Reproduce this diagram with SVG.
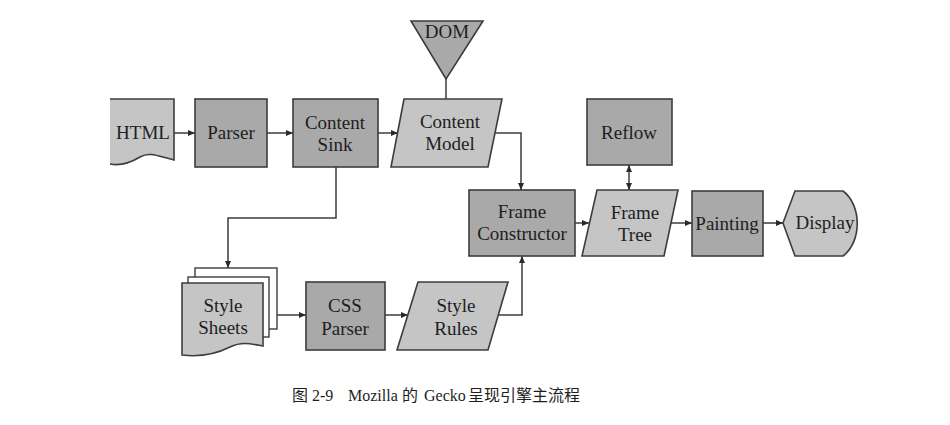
<svg xmlns="http://www.w3.org/2000/svg" width="950" height="425" viewBox="0 0 950 425">
<defs>
<style>
.dk{fill:#a9a9a9;stroke:#3c3c3c;stroke-width:1.6}
.lt{fill:#c5c5c5;stroke:#3c3c3c;stroke-width:1.6}
.pg{fill:#ffffff;stroke:#3c3c3c;stroke-width:1.4}
.nofill{fill:none;stroke:#3c3c3c;stroke-width:1.6}
.c{fill:none;stroke:#3c3c3c;stroke-width:1.5}
.t{font-family:'Liberation Serif','DejaVu Serif',serif;font-size:19px;fill:#1e1e1e;text-anchor:middle}
.cap{font-family:'Liberation Serif','Noto Sans CJK SC',serif;font-size:16px;fill:#1e1e1e}
</style>
<marker id="ah" markerUnits="userSpaceOnUse" markerWidth="8" markerHeight="8" refX="7" refY="3" orient="auto-start-reverse">
<path d="M0,0 L7,3 L0,6 Z" fill="#2a2a2a"/>
</marker>
</defs>
<rect width="950" height="425" fill="#ffffff"/>

<g id="connectors">
<line class="c" x1="174" y1="133" x2="195" y2="133" marker-end="url(#ah)"/>
<line class="c" x1="267" y1="133" x2="293" y2="133" marker-end="url(#ah)"/>
<line class="c" x1="378" y1="133" x2="398" y2="133" marker-end="url(#ah)"/>
<line class="c" x1="446" y1="79" x2="446" y2="99"/>
<path class="c" d="M495,133 H521 V190" marker-end="url(#ah)"/>
<line class="c" x1="575" y1="223" x2="589" y2="223" marker-end="url(#ah)"/>
<line class="c" x1="629" y1="165" x2="629" y2="190" marker-start="url(#ah)" marker-end="url(#ah)"/>
<line class="c" x1="671" y1="223" x2="692" y2="223" marker-end="url(#ah)"/>
<line class="c" x1="763" y1="223" x2="783" y2="223" marker-end="url(#ah)"/>
<path class="c" d="M336,167 V218 H228 V268" marker-end="url(#ah)"/>
<line class="c" x1="277" y1="315" x2="306" y2="315" marker-end="url(#ah)"/>
<line class="c" x1="385" y1="315" x2="408" y2="315" marker-end="url(#ah)"/>
<path class="c" d="M498,315 H522 V256" marker-end="url(#ah)"/>
</g>

<g class="t" font-family="Liberation Serif, DejaVu Serif, serif">
<g id="html">
<path d="M110,99 H174 V160 C160,157 150,151 140,157 C130,163 120,166 110,164 Z" fill="#c5c5c5" stroke="none"/>
<path class="nofill" d="M110,99 H174 V160 C160,157 150,151 140,157 C130,163 120,166 110,164"/>
<text x="143" y="139">HTML</text>
</g>

<g id="parser">
<rect class="dk" x="195" y="99" width="72" height="68"/>
<text x="231" y="139">Parser</text>
</g>

<g id="content-sink">
<rect class="dk" x="293" y="99" width="85" height="68"/>
<text x="335" y="129">Content</text>
<text x="335" y="151">Sink</text>
</g>

<g id="dom">
<polygon class="dk" points="411,21 483,21 446,79"/>
<text x="447" y="38">DOM</text>
</g>

<g id="content-model">
<polygon class="lt" points="404,99 502,99 488,167 391,167"/>
<text x="450" y="128">Content</text>
<text x="450" y="150">Model</text>
</g>

<g id="reflow">
<rect class="dk" x="587" y="99" width="85" height="66"/>
<text x="629" y="139">Reflow</text>
</g>

<g id="frame-constructor">
<rect class="dk" x="469" y="190" width="106" height="66"/>
<text x="522" y="218">Frame</text>
<text x="522" y="240">Constructor</text>
</g>

<g id="frame-tree">
<polygon class="lt" points="597,190 678,190 664,256 582,256"/>
<text x="635" y="219">Frame</text>
<text x="635" y="241">Tree</text>
</g>

<g id="painting">
<rect class="dk" x="692" y="191" width="71" height="65"/>
<text x="727" y="230">Painting</text>
</g>

<g id="display">
<path class="lt" d="M783,223 L795,191 H843 C862,205 862,242 843,256 H795 Z"/>
<text x="825" y="229">Display</text>
</g>

<g id="style-sheets">
<rect class="pg" x="195" y="268" width="82" height="61"/>
<rect class="pg" x="188" y="277" width="81" height="60"/>
<path class="lt" d="M182,283 H263 V346 C252,344 242,341 230,347 C216,354 198,357 182,355 Z"/>
<text x="223" y="312">Style</text>
<text x="223" y="334">Sheets</text>
</g>

<g id="css-parser">
<rect class="dk" x="306" y="282" width="79" height="68"/>
<text x="345" y="312">CSS</text>
<text x="345" y="335">Parser</text>
</g>

<g id="style-rules">
<polygon class="lt" points="418,282 508,282 488,350 397,350"/>
<text x="456" y="312">Style</text>
<text x="456" y="335">Rules</text>
</g>
</g>

<g id="caption">
<text class="cap" y="401" font-family="Liberation Serif, Noto Sans CJK SC, serif"><tspan x="292">图</tspan><tspan x="312">2-9</tspan><tspan x="348">Mozilla</tspan><tspan x="402">的</tspan><tspan x="424">Gecko</tspan><tspan x="468">呈现引擎主流程</tspan></text>
</g>
</svg>
